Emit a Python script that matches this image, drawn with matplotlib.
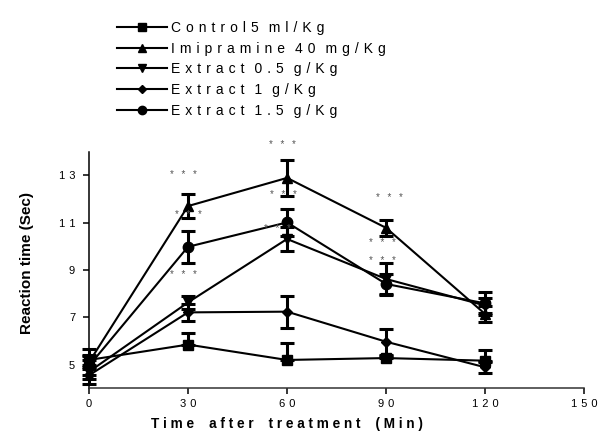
import matplotlib
matplotlib.use("Agg")
import matplotlib.pyplot as plt
import numpy as np

plt.rcParams['font.family'] = ['Liberation Sans', 'DejaVu Sans']

# data
time = [0, 30, 60, 90, 120]

control = [5.2, 5.85, 5.2, 5.28, 5.17]
control_err = [0.45, 0.47, 0.7, 0.1, 0.45]

imipramine = [5.1, 11.7, 12.89, 10.78, 7.14]
imipramine_err = [0.3, 0.5, 0.76, 0.35, 0.35]

extract_05 = [4.7, 7.63, 10.31, 8.62, 7.5]
extract_05_err = [0.3, 0.27, 0.52, 0.66, 0.3]

extract_1 = [4.55, 7.21, 7.24, 5.97, 4.89]
extract_1_err = [0.35, 0.35, 0.68, 0.55, 0.24]

extract_15 = [4.95, 9.98, 11.01, 8.41, 7.59]
extract_15_err = [0.4, 0.67, 0.57, 0.42, 0.5]

labels = ["Control5 ml/Kg",
          "Imipramine 40 mg/Kg",
          "Extract 0.5 g/Kg",
          "Extract 1 g/Kg",
          "Extract 1.5 g/Kg"]

# significance marks (time, height)
star_x = [28.5, 30, 28.5, 58.5, 59, 57, 91, 89, 89]
star_y = [13.0, 11.34, 8.79, 14.3, 12.18, 10.73, 12.04, 10.14, 9.36]

xticks = [0, 30, 60, 90, 120, 150]
yticks = [5, 7, 9, 11, 13]

GAP = ' \u200a'


def spaced(s, gap=GAP):
    # prism style wide letter spacing
    words = s.split(' ')
    return (gap * 2).join(gap.join(w) for w in words)


fig = plt.figure(figsize=(6.01, 4.32), dpi=100)
ax = fig.add_axes([0.148, 0.101, 0.824, 0.548])

series = [
    (control, [np.zeros(5), control_err], 's', 7),
    (imipramine, imipramine_err, '^', 7.5),
    (extract_05, extract_05_err, 'v', 7.5),
    (extract_1, extract_1_err, 'D', 5),
    (extract_15, extract_15_err, 'o', 7.5),
]

handles = []
for vals, err, mk, ms in series:
    eb = ax.errorbar(time, vals, yerr=err, fmt='-', marker=mk, ms=ms,
                     color='black', lw=1.5, elinewidth=2.2, capsize=5,
                     capthick=2.2)
    for art in [eb.lines[0]] + list(eb.lines[1]) + list(eb.lines[2]):
        art.set_clip_on(False)
    handles.append(eb.lines[0])

for sx, sy in zip(star_x, star_y):
    ax.text(sx, sy, "*\u2002 *\u2002 *", ha='center', va='center',
            fontsize=7, color='#555555')

ax.set_xlim(0, 150)
ax.set_ylim(4, 14)
ax.set_xticks(xticks)
ax.set_xticklabels([spaced(str(t)) for t in xticks], fontsize=8)
ax.set_yticks(yticks)
ax.set_yticklabels([spaced(str(t)) for t in yticks], fontsize=8)

for s in ['top', 'right']:
    ax.spines[s].set_visible(False)
for s in ['left', 'bottom']:
    ax.spines[s].set_linewidth(1.1)
ax.spines['bottom'].set_color('#333333')
ax.tick_params(direction='out', length=4, width=1.1)
ax.tick_params(axis='x', pad=4)
ax.tick_params(axis='y', pad=6)

ax.set_xlabel(spaced("Time  after  treatment  (Min)", ' '),
              fontsize=9.8, fontweight='bold')
ax.xaxis.set_label_coords(0.4, -0.12)
ax.set_ylabel("Reaction time (Sec)", fontsize=11, fontweight='bold')
ax.yaxis.set_label_coords(-0.11, 0.53)

fig.legend(handles, [spaced(l) for l in labels], loc='upper left',
           bbox_to_anchor=(0.195, 0.952), frameon=False, fontsize=10,
           handlelength=3.6, handletextpad=0.25, labelspacing=0.49,
           borderpad=0, borderaxespad=0, markerscale=0.8)

fig.savefig("out.png", dpi=100)
